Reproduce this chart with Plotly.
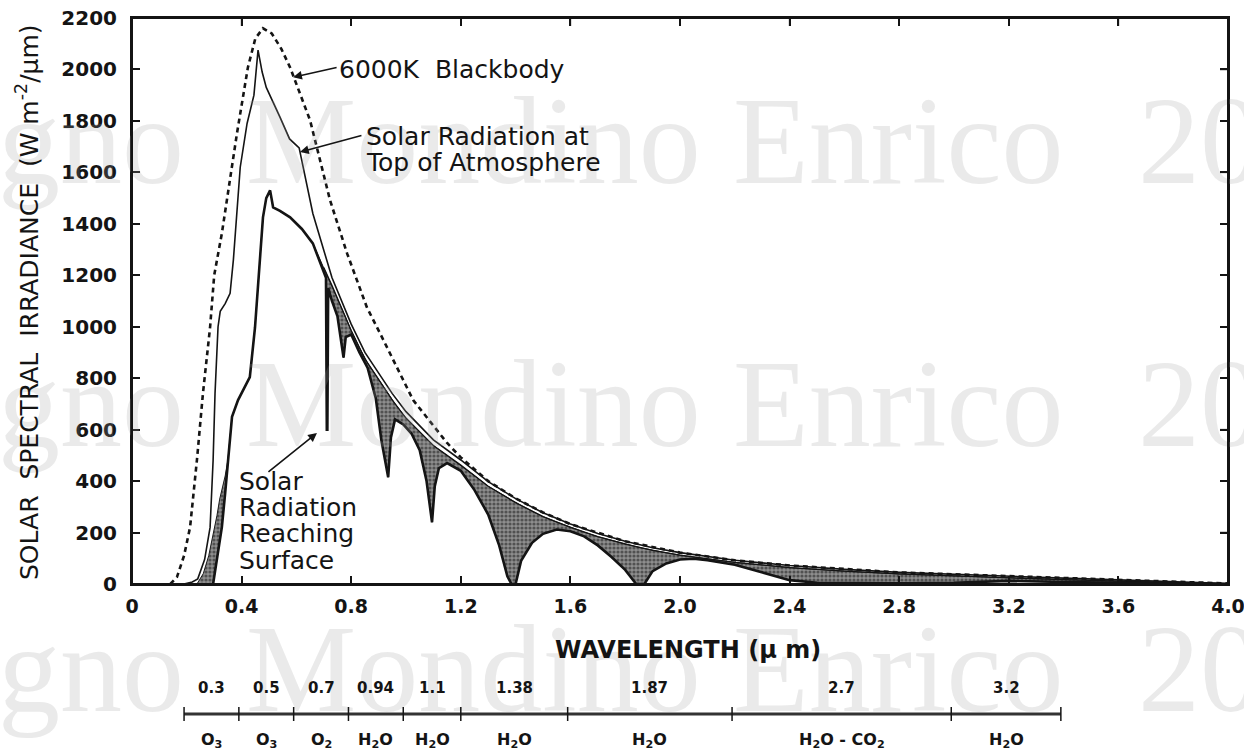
import numpy as np
import plotly.graph_objects as go

# ---------------- data ----------------
# 6000 K blackbody (dashed); beyond ~1.25 um it runs on top of the TOA curve
BB_X = [0.14, 0.164, 0.19, 0.212, 0.237, 0.259, 0.285, 0.30, 0.328, 0.355, 0.383, 0.423, 0.45, 0.478,
        0.51, 0.545, 0.577, 0.65, 0.723, 0.785, 0.857, 0.905, 0.94, 1.026, 1.15, 1.2, 1.3, 1.4, 1.5,
        1.6, 1.8, 2.0, 2.2, 2.4, 2.8, 3.2, 3.6, 4.0]
BB_Y = [0, 27, 110, 221, 482, 742, 998, 1200, 1363, 1560, 1751, 2008, 2120, 2160,
        2140, 2080, 2008, 1802, 1491, 1285, 1076, 975, 900, 715, 548, 492, 400, 333, 278,
        233, 166, 122, 92, 72, 45, 30, 16, 2]

# Solar radiation at top of atmosphere
TOA_X = [0.19, 0.22, 0.24, 0.265, 0.285, 0.296, 0.303, 0.314, 0.322, 0.34, 0.358, 0.37, 0.395, 0.42,
         0.445, 0.46, 0.475, 0.49, 0.54, 0.575, 0.61, 0.66, 0.73, 0.80, 0.85, 0.90, 0.95, 1.0, 1.1,
         1.2, 1.3, 1.4, 1.5, 1.6, 1.7, 1.8, 1.9, 2.0, 2.2, 2.4, 2.6, 2.8, 3.0, 3.2, 3.4, 3.6, 3.8, 4.0]
TOA_Y = [0, 8, 20, 95, 220, 480, 740, 1000, 1060, 1090, 1130, 1260, 1620, 1790,
         1900, 2075, 1990, 1930, 1815, 1730, 1695, 1440, 1190, 1010, 900, 820, 740, 670, 560,
         482, 398, 332, 277, 233, 196, 166, 141, 122, 92, 72, 57, 45, 37, 30, 23, 16, 9, 2]

# Envelope of surface radiation without gaseous absorption (upper edge of shading)
ENV_UV_X = [0.237, 0.26, 0.28, 0.303, 0.32, 0.34, 0.35]
ENV_UV_Y = [0, 40, 110, 221, 330, 420, 482]
ENV_IR_X = [0.70, 0.73, 0.80, 0.85, 0.90, 0.95, 1.0, 1.1, 1.2, 1.3, 1.4, 1.5, 1.6, 1.7, 1.8, 1.9,
            2.0, 2.2, 2.4, 2.6, 2.8, 3.0, 3.2, 3.4, 3.6, 3.8, 4.0]
ENV_IR_Y = [1230, 1160, 985, 875, 795, 715, 645, 538, 462, 380, 316, 262, 220, 184, 155, 131,
            112, 84, 64, 50, 39, 31, 24, 17, 11, 5, 0]

# Solar radiation reaching surface
SFC_X = [0.296, 0.31, 0.328, 0.34, 0.35, 0.365, 0.387, 0.41, 0.43, 0.449, 0.467, 0.478, 0.49, 0.504,
         0.515, 0.54, 0.577, 0.62, 0.66, 0.70, 0.708, 0.711, 0.713, 0.716, 0.73, 0.75, 0.765, 0.772,
         0.78, 0.80, 0.83, 0.86, 0.89, 0.91, 0.935, 0.945, 0.96, 0.99, 1.02, 1.05, 1.075, 1.095,
         1.105, 1.12, 1.15, 1.2, 1.25, 1.3, 1.34, 1.37, 1.385, 1.40, 1.42, 1.46, 1.5, 1.55, 1.6,
         1.65, 1.7, 1.75, 1.8, 1.84, 1.87, 1.9, 1.95, 2.0, 2.05, 2.1, 2.2, 2.3, 2.4, 2.5, 2.8, 3.0,
         3.2, 3.4, 3.6, 3.8, 4.0]
SFC_Y = [0, 93, 221, 353, 482, 650, 715, 760, 804, 998, 1258, 1425, 1500, 1530,
         1464, 1450, 1425, 1380, 1324, 1215, 1190, 600, 600, 1150, 1100, 1040, 930, 880,
         960, 970, 900, 840, 720, 560, 415, 570, 640, 620, 585, 520, 400, 240,
         380, 450, 470, 440, 365, 270, 150, 30, 0, 0, 90, 160, 195, 212, 205,
         185, 150, 105, 55, 0, 0, 50, 80, 95, 98, 92, 75, 45, 15, 5, 3, 5,
         12, 8, 5, 3, 0]

X_TICKS = [0, 0.4, 0.8, 1.2, 1.6, 2.0, 2.4, 2.8, 3.2, 3.6, 4.0]
X_TICKTEXT = ["0", "0.4", "0.8", "1.2", "1.6", "2.0", "2.4", "2.8", "3.2", "3.6", "4.0"]
Y_TICKS = list(range(0, 2201, 200))

# absorption bands (scale under the axis)
BAND_EDGES = [0.19, 0.39, 0.59, 0.79, 0.99, 1.2, 1.59, 2.19, 2.99, 3.39]
BAND_CENTRES = ["0.3", "0.5", "0.7", "0.94", "1.1", "1.38", "1.87", "2.7", "3.2"]
BAND_GASES = ["O<sub>3</sub>", "O<sub>3</sub>", "O<sub>2</sub>", "H<sub>2</sub>O", "H<sub>2</sub>O",
              "H<sub>2</sub>O", "H<sub>2</sub>O", "H<sub>2</sub>O - CO<sub>2</sub>", "H<sub>2</sub>O"]

# watermark words
WM_WORDS = ["gno", "Mondino", "Enrico", "20"]

FONT = "DejaVu Sans"
INK = "#141414"

# figure geometry (page body margin is removed, so figure pixels = window pixels)
W, H = 1244, 749
PX0, PX1, PY0, PY1 = 132, 1228, 18, 584   # plot area in pixels


def px(xp):
    return xp / W


def py(yp):
    return 1 - yp / H


# ---------------- shaded absorption area ----------------
grid = np.unique(np.concatenate([SFC_X, ENV_UV_X, ENV_IR_X]))
s = np.interp(grid, SFC_X, SFC_Y)
upper = s.copy()
for ex, ey in ((ENV_UV_X, ENV_UV_Y), (ENV_IR_X, ENV_IR_Y)):
    m = (grid >= ex[0]) & (grid <= ex[-1])
    upper[m] = np.maximum(s[m], np.interp(grid[m], ex, ey))
poly_x = np.concatenate([grid, grid[::-1]])
poly_y = np.concatenate([upper, s[::-1]])

fig = go.Figure()
fig.add_trace(go.Scatter(
    x=poly_x, y=poly_y, fill="toself", mode="lines",
    line=dict(color="#1a1a1a", width=1.0),
    fillcolor="#7c7c7c",
    fillpattern=dict(shape=".", bgcolor="#8e8e8e", fgcolor="#141414", size=4, solidity=0.5),
    hoverinfo="skip", showlegend=False))
fig.add_trace(go.Scatter(x=ENV_IR_X, y=ENV_IR_Y, mode="lines",
                         line=dict(color=INK, width=1.3), showlegend=False))
fig.add_trace(go.Scatter(x=TOA_X, y=TOA_Y, mode="lines",
                         line=dict(color=INK, width=1.6), showlegend=False))
fig.add_trace(go.Scatter(x=SFC_X, y=SFC_Y, mode="lines",
                         line=dict(color=INK, width=2.6), showlegend=False))
fig.add_trace(go.Scatter(x=BB_X, y=BB_Y, mode="lines",
                         line=dict(color=INK, width=2.6, dash="5px,4px"), showlegend=False))

# watermark: a full-figure overlay subplot in pixel units, clipped at the figure edge
wm_x, wm_y, wm_t = [], [], []
for row_y in (152, 415, 680):
    for xw, word in zip((-2, 246, 733, 1138), WM_WORDS):
        wm_x.append(xw)
        wm_y.append(row_y)
        wm_t.append(word)
fig.add_trace(go.Scatter(
    x=wm_x, y=wm_y, text=wm_t, mode="text", textposition="middle right",
    textfont=dict(family="Liberation Serif", size=124, color="rgba(160,160,160,0.22)"),
    xaxis="x2", yaxis="y2", cliponaxis=True, hoverinfo="skip", showlegend=False))

ann = []
# curve labels (one annotation per line to keep the tight line spacing)
lab_font = dict(family=FONT, size=25, color=INK)
for x0, y0, txt in ((0.748, 1998, "6000K  Blackbody"),
                    (0.847, 1741, "Solar Radiation at"),
                    (0.847, 1640, "Top of Atmosphere"),
                    (0.383, 400, "Solar"),
                    (0.383, 299, "Radiation"),
                    (0.383, 198, "Reaching"),
                    (0.383, 93, "Surface")):
    ann.append(dict(x=x0, y=y0, text=txt, showarrow=False, xanchor="left", yanchor="middle",
                    font=lab_font))
# leader arrows
for hx, hy, axp, ayp in ((0.588, 1970, 45, -10), (0.613, 1679, 63, -17), (0.675, 587, -50, 40)):
    ann.append(dict(x=hx, y=hy, ax=axp, ay=ayp, text="", showarrow=True, arrowhead=2,
                    arrowsize=1.1, arrowwidth=1.6, arrowcolor=INK))

# axis titles
ann.append(dict(xref="paper", yref="paper", x=px(28), y=py(302), textangle=-90, showarrow=False,
                xanchor="center", yanchor="middle",
                text="SOLAR  SPECTRAL  IRRADIANCE  (W m<sup>-2</sup>/\u03bcm)",
                font=dict(family=FONT, size=25, color=INK)))
ann.append(dict(xref="paper", yref="paper", x=px(688), y=py(650), showarrow=False,
                xanchor="center", yanchor="middle",
                text="<b>WAVELENGTH (\u03bc m)</b>", font=dict(family=FONT, size=24, color=INK)))

# frame of the plot area with inward ticks on the top and right sides
shapes = [dict(type="rect", xref="paper", yref="paper", x0=px(PX0), x1=px(PX1), y0=py(PY1),
               y1=py(PY0), line=dict(color=INK, width=2), layer="above")]
for t in Y_TICKS[1:-1]:
    shapes.append(dict(type="line", xref="paper", yref="y", x0=px(PX1 - 8), x1=px(PX1), y0=t, y1=t,
                       line=dict(color=INK, width=1.5)))
for t in X_TICKS[1:-1]:
    shapes.append(dict(type="line", xref="x", yref="paper", x0=t, x1=t, y0=py(PY0 + 8), y1=py(PY0),
                       line=dict(color=INK, width=1.5)))

# band scale
y_line = py(714)
tick_h = 7 / H
shapes.append(dict(type="line", xref="x", yref="paper", x0=BAND_EDGES[0], x1=BAND_EDGES[-1],
                   y0=y_line, y1=y_line, line=dict(color="#333", width=3)))
for e in BAND_EDGES:
    shapes.append(dict(type="line", xref="x", yref="paper", x0=e, x1=e,
                       y0=y_line - tick_h, y1=y_line + tick_h, line=dict(color=INK, width=1.5)))
for i, (c, g) in enumerate(zip(BAND_CENTRES, BAND_GASES)):
    xm = (BAND_EDGES[i] + BAND_EDGES[i + 1]) / 2
    ann.append(dict(x=xm, xref="x", yref="paper", y=py(688), text="<b>%s</b>" % c, showarrow=False,
                    yanchor="middle", font=dict(family=FONT, size=15, color=INK)))
    ann.append(dict(x=xm, xref="x", yref="paper", y=py(740), text="<b>%s</b>" % g, showarrow=False,
                    yanchor="middle", font=dict(family=FONT, size=16, color=INK)))

fig.update_layout(
    width=W, height=H,
    margin=dict(l=0, r=0, t=0, b=0, pad=0),
    paper_bgcolor="white", plot_bgcolor="rgba(0,0,0,0)",
    annotations=ann, shapes=shapes, showlegend=False,
    xaxis=dict(domain=[px(PX0), px(PX1)], range=[0, 4.0], tickvals=X_TICKS, ticktext=X_TICKTEXT,
               ticks="inside", ticklen=8, automargin=False, ticklabeloverflow="allow",
               tickwidth=1.5, tickcolor=INK, showline=True, linewidth=2, linecolor=INK,
               mirror="ticks", showgrid=False, zeroline=False, ticklabelstandoff=4,
               tickfont=dict(family=FONT, size=19, color=INK, weight="bold")),
    yaxis=dict(domain=[py(PY1), py(PY0)], range=[0, 2200], tickvals=Y_TICKS, ticks="inside",
               ticklen=8, automargin=False, ticklabeloverflow="allow",
               tickwidth=1.5, tickcolor=INK, showline=True, linewidth=2, linecolor=INK,
               mirror="ticks", showgrid=False, zeroline=False, ticklabelstandoff=9,
               tickfont=dict(family=FONT, size=20, color=INK, weight="bold")),
    xaxis2=dict(domain=[0, 1], range=[0, W], visible=False, anchor="y2", fixedrange=True),
    yaxis2=dict(domain=[0, 1], range=[H, 0], visible=False, anchor="x2", fixedrange=True),
)

fig.write_html("out.html", config={"displayModeBar": False, "responsive": False},
               post_script="document.body.style.margin='0px';")
